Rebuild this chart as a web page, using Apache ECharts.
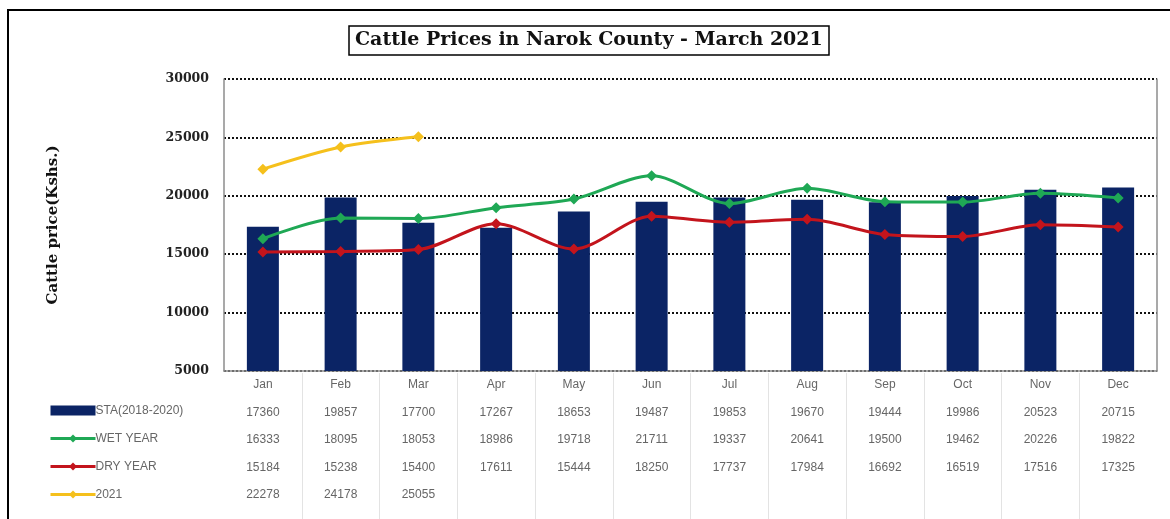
<!DOCTYPE html>
<html>
<head>
<meta charset="utf-8">
<script src="https://cdn.jsdelivr.net/npm/echarts@6/dist/echarts.min.js"></script>
<style>
  html, body { margin: 0; padding: 0; background: #fff; }
  #chart { width: 1170px; height: 519px; }
</style>
</head>
<body>
<div id="chart"></div>
<script>
// Monthly cattle prices (KShs) in Narok County
const months = ['Jan', 'Feb', 'Mar', 'Apr', 'May', 'Jun', 'Jul', 'Aug', 'Sep', 'Oct', 'Nov', 'Dec'];
const staAvg = [17360, 19857, 17700, 17267, 18653, 19487, 19853, 19670, 19444, 19986, 20523, 20715];
const wetYear = [16333, 18095, 18053, 18986, 19718, 21711, 19337, 20641, 19500, 19462, 20226, 19822];
const dryYear = [15184, 15238, 15400, 17611, 15444, 18250, 17737, 17984, 16692, 16519, 17516, 17325];
const year2021 = [22278, 24178, 25055, null, null, null, null, null, null, null, null, null];
const yTicks = { min: 5000, max: 30000, step: 5000 };

const seriesNames = ['STA(2018-2020)', 'WET YEAR', 'DRY YEAR', '2021'];
const colors = { sta: '#0b2465', wet: '#1fa855', dry: '#c3141c', y21: '#f5c01c' };

const serif = 'DejaVu Serif';
const sans = 'Liberation Sans';

const plotLeft = 224;
const plotRight = 13;
const colWidth = (1170 - plotLeft - plotRight) / months.length;

const chart = echarts.init(document.getElementById('chart'), null, { renderer: 'canvas' });

// Data table rows underneath each month column
function tableCell(value, index) {
  const v21 = year2021[index] == null ? ' ' : year2021[index];
  return [value, staAvg[index], wetYear[index], dryYear[index], v21].join('\n');
}

// Inner column dividers of the table (between neighbouring months)
const dividers = months.slice(1);

const lineCommon = {
  type: 'line',
  symbol: 'diamond',
  symbolSize: 11,
  smooth: 0.3,
  z: 3
};

chart.setOption({
  animation: false,
  backgroundColor: '#fff',
  title: {
    text: 'Cattle Prices in Narok County - March 2021',
    left: 349,
    top: 26,
    padding: [5, 6, 5, 6],
    borderColor: '#000',
    borderWidth: 1.5,
    textStyle: {
      fontFamily: serif,
      fontWeight: 'bold',
      fontSize: 19,
      color: '#111'
    }
  },
  graphic: [{
    type: 'rect',
    shape: { x: 8, y: 10, width: 1180, height: 530 },
    style: { fill: null, stroke: '#000', lineWidth: 2 },
    silent: true
  }],
  legend: {
    orient: 'vertical',
    left: 44,
    top: 398,
    itemWidth: 45,
    itemHeight: 10,
    itemGap: 13,
    lineStyle: { width: 3 },
    data: [
      { name: seriesNames[0], icon: 'rect' },
      { name: seriesNames[1] },
      { name: seriesNames[2] },
      { name: seriesNames[3] }
    ],
    textStyle: {
      fontFamily: sans,
      fontSize: 12,
      color: '#666',
      lineHeight: 15,
      padding: [0, 0, 0, -5]
    }
  },
  grid: [
    { left: plotLeft, right: plotRight, top: 79, bottom: 148 },
    { left: plotLeft + colWidth, right: plotRight + colWidth, top: 373, bottom: 0 }
  ],
  xAxis: [{
    type: 'category',
    gridIndex: 0,
    data: months,
    axisTick: { show: false },
    axisLine: { lineStyle: { color: '#8c8c8c', width: 1.5 } },
    axisLabel: {
      interval: 0,
      margin: 0,
      fontFamily: sans,
      fontSize: 12,
      color: '#666',
      lineHeight: 27.5,
      formatter: tableCell
    }
  }, {
    type: 'category',
    gridIndex: 1,
    data: dividers,
    boundaryGap: false,
    axisTick: { show: false },
    axisLine: { show: false },
    axisLabel: { show: false },
    splitLine: {
      show: true,
      interval: 0,
      lineStyle: { color: '#e3e3e3', width: 1 }
    }
  }],
  yAxis: [{
    type: 'value',
    gridIndex: 0,
    min: yTicks.min,
    max: yTicks.max,
    interval: yTicks.step,
    name: 'Cattle price(Kshs.)',
    nameLocation: 'middle',
    nameRotate: 90,
    nameGap: 163,
    nameTextStyle: {
      fontFamily: serif,
      fontWeight: 'bold',
      fontSize: 15,
      color: '#111'
    },
    axisLine: { show: true, lineStyle: { color: '#8c8c8c', width: 1.5 } },
    axisTick: { show: false },
    axisLabel: {
      margin: 15,
      fontFamily: serif,
      fontWeight: 'bold',
      fontSize: 12.5,
      color: '#222',
      formatter: function (v) { return String(v); }
    },
    splitLine: {
      show: true,
      lineStyle: { color: '#111', width: 2, type: [2, 2] }
    }
  }, {
    type: 'value',
    gridIndex: 0,
    position: 'right',
    min: yTicks.min,
    max: yTicks.max,
    interval: yTicks.step,
    axisLine: { show: true, lineStyle: { color: '#8c8c8c', width: 1.5 } },
    axisTick: { show: false },
    axisLabel: { show: false },
    splitLine: { show: false }
  }, {
    type: 'value',
    gridIndex: 1,
    show: false
  }],
  series: [{
    name: seriesNames[0],
    type: 'bar',
    data: staAvg,
    barWidth: 32,
    itemStyle: { color: colors.sta },
    z: 2
  }, Object.assign({}, lineCommon, {
    name: seriesNames[1],
    data: wetYear,
    itemStyle: { color: colors.wet },
    lineStyle: { width: 3, color: colors.wet }
  }), Object.assign({}, lineCommon, {
    name: seriesNames[2],
    data: dryYear,
    itemStyle: { color: colors.dry },
    lineStyle: { width: 3, color: colors.dry }
  }), Object.assign({}, lineCommon, {
    name: seriesNames[3],
    data: year2021,
    itemStyle: { color: colors.y21 },
    lineStyle: { width: 3, color: colors.y21 }
  })]
});
</script>
</body>
</html>
